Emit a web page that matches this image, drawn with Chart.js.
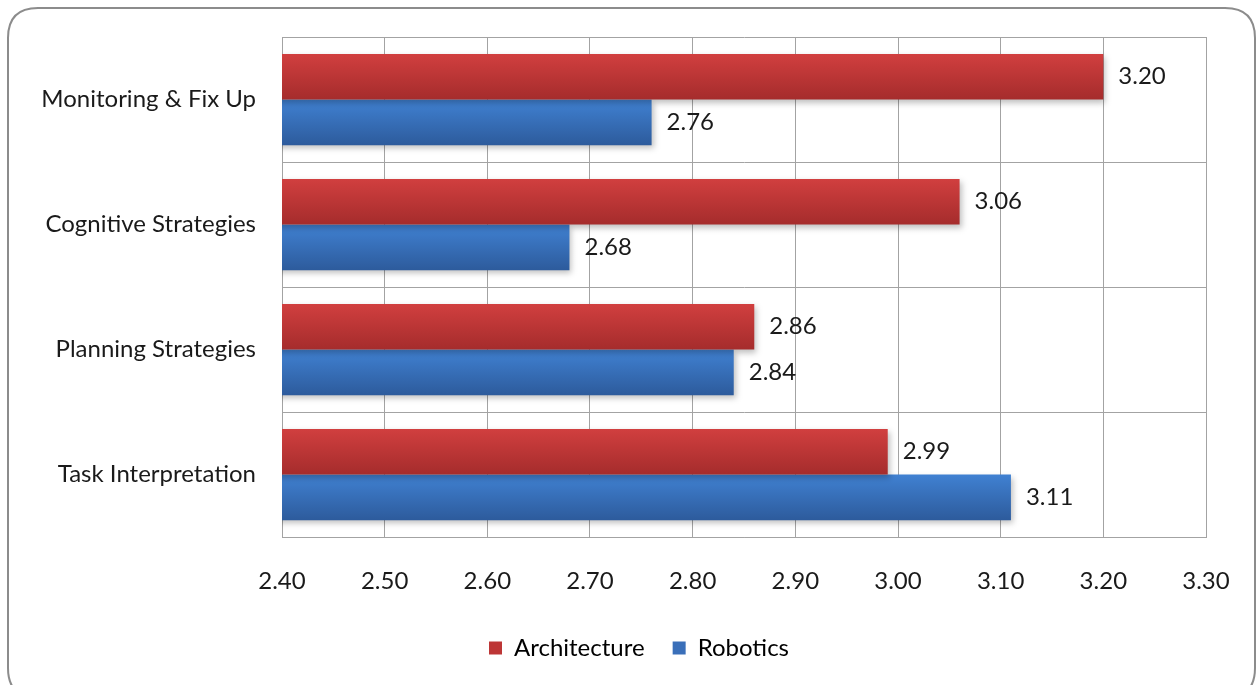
<!DOCTYPE html>
<html>
<head>
<meta charset="utf-8">
<script src="https://cdn.jsdelivr.net/npm/chart.js@4.4.1/dist/chart.umd.min.js"></script>
<style>
  html, body { margin: 0; padding: 0; background: #fff; }
  #wrap { width: 1257px; height: 685px; }
</style>
</head>
<body>
<div id="wrap"><canvas id="chart" width="1257" height="685"></canvas></div>
<script>
// データ
const categories = ['Monitoring & Fix Up', 'Cognitive Strategies', 'Planning Strategies', 'Task Interpretation'];
const architecture = [3.20, 3.06, 2.86, 2.99];
const robotics = [2.76, 2.68, 2.84, 3.11];
const xTickLabels = ['2.40', '2.50', '2.60', '2.70', '2.80', '2.90', '3.00', '3.10', '3.20', '3.30'];

const FONT = 'Lato, "Open Sans", sans-serif';
const FONT_SIZE = 24;
const TEXT_COLOR = '#1a1a1a';
const GRID_COLOR = '#a3a3a3';
const CAT_PCT = 0.73;

const redStops = ['#d13f3f', '#a52c2c'];
const blueStops = ['#4081d2', '#2d5b9c'];

// バーごとの縦グラデーション
function barFill(context, stops, isTop) {
    const chart = context.chart;
    const yScale = chart.scales.y;
    if (!chart.chartArea || !yScale || context.dataIndex === undefined) return stops[0];
    const center = yScale.getPixelForValue(context.dataIndex);
    const band = yScale.height / categories.length;
    const thick = band * CAT_PCT / 2;
    const y0 = isTop ? center - thick : center;
    const g = chart.ctx.createLinearGradient(0, y0, 0, y0 + thick);
    g.addColorStop(0, stops[0]);
    g.addColorStop(1, stops[1]);
    return g;
}

// 外枠（角丸）と凡例の位置調整
const framePlugin = {
    id: 'frame',
    afterLayout(chart) {
        // 凡例を枠全体の中央へ寄せる
        chart.legend.left += 36;
        chart.legend.right += 36;
    },
    beforeDraw(chart) {
        const ctx = chart.ctx;
        ctx.save();
        ctx.fillStyle = '#ffffff';
        ctx.fillRect(0, 0, chart.width, chart.height);
        const x = 8, y = 8, w = 1247, h = 690, r = 30;
        ctx.beginPath();
        ctx.moveTo(x + r, y);
        ctx.lineTo(x + w - r, y);
        ctx.quadraticCurveTo(x + w, y, x + w, y + r);
        ctx.lineTo(x + w, y + h - r);
        ctx.quadraticCurveTo(x + w, y + h, x + w - r, y + h);
        ctx.lineTo(x + r, y + h);
        ctx.quadraticCurveTo(x, y + h, x, y + h - r);
        ctx.lineTo(x, y + r);
        ctx.quadraticCurveTo(x, y, x + r, y);
        ctx.closePath();
        ctx.lineWidth = 2;
        ctx.strokeStyle = '#8c8c8c';
        ctx.stroke();
        ctx.restore();
    }
};

// バーの影と値ラベル
const barLabelPlugin = {
    id: 'barLabels',
    beforeDatasetsDraw(chart) {
        const ctx = chart.ctx;
        ctx.save();
        ctx.shadowColor = 'rgba(0, 0, 0, 0.25)';
        ctx.shadowBlur = 6;
        ctx.shadowOffsetX = 2;
        ctx.shadowOffsetY = 3;
    },
    afterDatasetsDraw(chart) {
        const ctx = chart.ctx;
        ctx.restore();
        ctx.save();
        ctx.font = FONT_SIZE + 'px ' + FONT;
        ctx.fillStyle = TEXT_COLOR;
        ctx.textAlign = 'left';
        ctx.textBaseline = 'middle';
        chart.data.datasets.forEach((ds, di) => {
            const meta = chart.getDatasetMeta(di);
            meta.data.forEach((bar, i) => {
                ctx.fillText(ds.data[i].toFixed(2), bar.x + 15, bar.y);
            });
        });
        ctx.restore();
    }
};

new Chart(document.getElementById('chart'), {
    type: 'bar',
    data: {
        labels: categories,
        datasets: [
            {
                label: 'Architecture',
                data: architecture,
                backgroundColor: (c) => barFill(c, redStops, true),
                borderWidth: 0,
                categoryPercentage: CAT_PCT,
                barPercentage: 1.0
            },
            {
                label: 'Robotics',
                data: robotics,
                backgroundColor: (c) => barFill(c, blueStops, false),
                borderWidth: 0,
                categoryPercentage: CAT_PCT,
                barPercentage: 1.0
            }
        ]
    },
    options: {
        indexAxis: 'y',
        responsive: false,
        animation: false,
        devicePixelRatio: 1,
        layout: { padding: { top: 37, right: 51, left: 0, bottom: 15 } },
        plugins: {
            legend: {
                position: 'bottom',
                labels: {
                    color: TEXT_COLOR,
                    font: { family: FONT, size: FONT_SIZE },
                    boxWidth: 13,
                    boxHeight: 13,
                    padding: 28,
                    generateLabels: (chart) => [
                        { text: 'Architecture', fillStyle: '#bd3636', strokeStyle: '#bd3636', lineWidth: 0, datasetIndex: 0 },
                        { text: 'Robotics', fillStyle: '#3a6fb9', strokeStyle: '#3a6fb9', lineWidth: 0, datasetIndex: 1 }
                    ]
                }
            },
            tooltip: { enabled: false }
        },
        scales: {
            x: {
                min: 2.4,
                max: 3.3,
                ticks: {
                    stepSize: 0.1,
                    color: TEXT_COLOR,
                    font: { family: FONT, size: FONT_SIZE },
                    padding: 0,
                    maxRotation: 0,
                    callback: (v, i) => xTickLabels[i]
                },
                // 目盛り線は透明にしてラベルとの間隔だけに使う
                grid: { color: GRID_COLOR, lineWidth: 1, drawTicks: true, tickLength: 30, tickColor: 'rgba(0,0,0,0)' },
                border: { color: GRID_COLOR },
                afterFit: (scale) => { scale.height = 71; }
            },
            y: {
                ticks: {
                    color: TEXT_COLOR,
                    font: { family: FONT, size: FONT_SIZE },
                    padding: 0
                },
                grid: { color: GRID_COLOR, lineWidth: 1, drawTicks: true, tickLength: 26, tickColor: 'rgba(0,0,0,0)' },
                border: { color: GRID_COLOR },
                afterFit: (scale) => { scale.width = 282; }
            }
        }
    },
    plugins: [framePlugin, barLabelPlugin]
});
</script>
</body>
</html>
